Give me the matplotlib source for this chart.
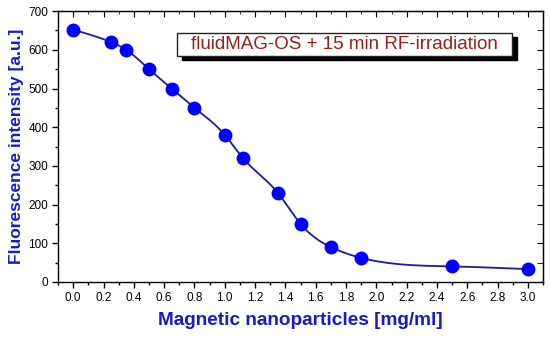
import numpy as np
import matplotlib
matplotlib.use("Agg")
import matplotlib.pyplot as plt
from matplotlib.ticker import MultipleLocator
from matplotlib.patches import Rectangle

conc = [0.0, 0.25, 0.35, 0.5, 0.65, 0.8, 1.0, 1.12, 1.35, 1.5, 1.7, 1.9, 2.5, 3.0]
fluor = [652, 620, 600, 550, 500, 450, 380, 320, 230, 150, 90, 62, 40, 33]
xticks = [0.0, 0.2, 0.4, 0.6, 0.8, 1.0, 1.2, 1.4, 1.6, 1.8, 2.0, 2.2, 2.4, 2.6, 2.8, 3.0]
yticks = [0, 100, 200, 300, 400, 500, 600, 700]
title_text = "fluidMAG-OS + 15 min RF-irradiation"

plt.rcParams['font.family'] = ['Liberation Sans', 'DejaVu Sans']


def natural_spline(x, y, xs):
    x = np.asarray(x, float); y = np.asarray(y, float)
    n = len(x); h = np.diff(x)
    A = np.zeros((n, n)); b = np.zeros(n)
    A[0, 0] = 1; A[-1, -1] = 1
    for i in range(1, n - 1):
        A[i, i - 1] = h[i - 1]; A[i, i] = 2 * (h[i - 1] + h[i]); A[i, i + 1] = h[i]
        b[i] = 6 * ((y[i + 1] - y[i]) / h[i] - (y[i] - y[i - 1]) / h[i - 1])
    M = np.linalg.solve(A, b)
    idx = np.clip(np.searchsorted(x, xs) - 1, 0, n - 2)
    hi = h[idx]; t1 = x[idx + 1] - xs; t0 = xs - x[idx]
    return (M[idx] * t1**3 / (6 * hi) + M[idx + 1] * t0**3 / (6 * hi)
            + (y[idx] / hi - M[idx] * hi / 6) * t1 + (y[idx + 1] / hi - M[idx + 1] * hi / 6) * t0)


fig = plt.figure(figsize=(5.5, 3.38), dpi=100)
ax = fig.add_axes([0.1055, 0.166, 0.882, 0.801])

xs = np.linspace(conc[0], conc[-1], 500)
ax.plot(xs, natural_spline(conc, fluor, xs), color='#1c1c9c', lw=1.3, zorder=2)
ax.plot(conc, fluor, 'o', color='#0000ff', ms=10, zorder=3, markeredgewidth=0)

ax.set_xlim(-0.1, 3.1)
ax.set_ylim(0, 700)
ax.set_xticks(xticks)
ax.set_xticklabels([f"{v:.1f}" for v in xticks])
ax.set_yticks(yticks)
ax.xaxis.set_minor_locator(MultipleLocator(0.1))
ax.yaxis.set_minor_locator(MultipleLocator(50))
ax.tick_params(axis='both', which='major', direction='out', length=4, width=1, labelsize=8.5, pad=3)
ax.tick_params(axis='both', which='minor', direction='out', length=2.5, width=1)

sec_x = ax.secondary_xaxis('top')
sec_x.set_xticks(xticks)
sec_x.xaxis.set_minor_locator(MultipleLocator(0.1))
sec_x.tick_params(which='major', direction='in', length=4, labeltop=False)
sec_x.tick_params(which='minor', direction='in', length=2.5)
sec_y = ax.secondary_yaxis('right')
sec_y.set_yticks(yticks)
sec_y.yaxis.set_minor_locator(MultipleLocator(50))
sec_y.tick_params(which='major', direction='in', length=4, labelright=False)
sec_y.tick_params(which='minor', direction='in', length=4)

for s in ax.spines.values():
    s.set_linewidth(1)

ax.set_xlabel("Magnetic nanoparticles [mg/ml]", color='#1a1acc', fontsize=13.7,
              fontweight='bold', labelpad=6)
ax.set_ylabel("Fluorescence intensity [a.u.]", color='#1a1acc', fontsize=12.5,
              fontweight='bold', labelpad=3)

# text box with shadow (in figure pixel coords)
W, H = 550, 338
x0, y0, x1, y1 = 177, 33, 512, 56
fig.patches.append(Rectangle(((x0 + 5) / W, 1 - (y1 + 4) / H), (x1 - x0) / W, (y1 - y0) / H,
                             transform=fig.transFigure, facecolor='black', edgecolor='black', lw=1, zorder=5))
fig.patches.append(Rectangle((x0 / W, 1 - y1 / H), (x1 - x0) / W, (y1 - y0) / H,
                             transform=fig.transFigure, facecolor='white', edgecolor='#222222', lw=1, zorder=6))
fig.text((x0 + x1) / 2 / W, 1 - (y0 + y1) / 2 / H, title_text, color='#9a1f1f', fontsize=13.5,
         ha='center', va='center', zorder=7)

fig.savefig("out.png", dpi=100)
